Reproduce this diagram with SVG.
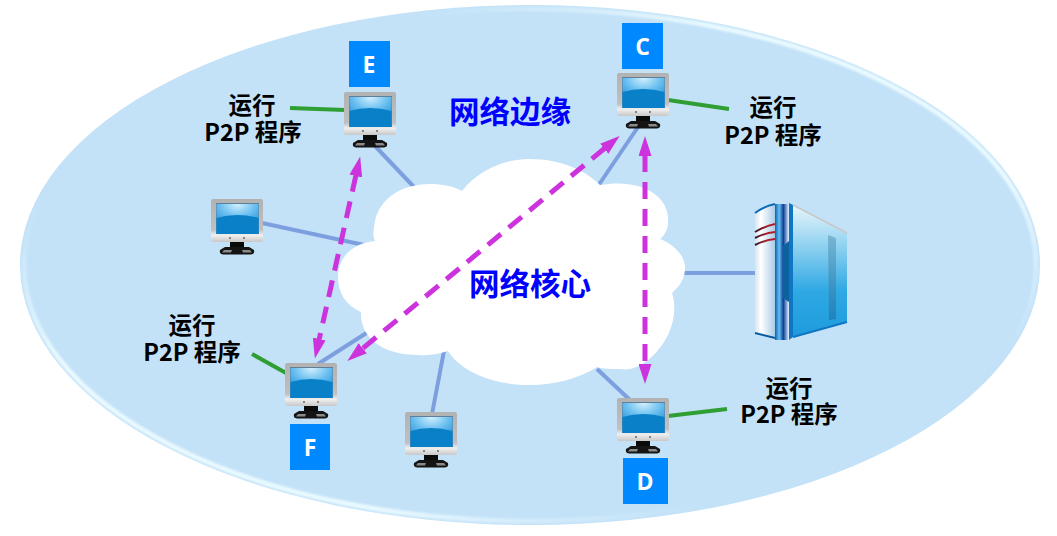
<svg xmlns="http://www.w3.org/2000/svg" xmlns:xlink="http://www.w3.org/1999/xlink" width="1057" height="536" viewBox="0 0 1057 536">
<style>
text{font-family:"Noto Sans CJK SC","Liberation Sans",sans-serif;font-weight:700;text-anchor:middle}
.lbl{font-size:23.5px;fill:#000}
.zone{font-size:30.5px;fill:#0000ff}
.tag{font-family:"Open Sans","Liberation Sans",sans-serif;font-size:23px;fill:#fff}
.box{fill:#0088ff}
.link{stroke:#7d9fe0;stroke-width:4;fill:none}
.note{stroke:#2f9e33;stroke-width:4;fill:none}
.p2p{stroke:#cc33dd;stroke-width:5;fill:none;stroke-dasharray:17 10;marker-start:url(#a);marker-end:url(#a)}
</style>
<defs>
<linearGradient id="hl" x1="0" y1="0" x2="1" y2="1">
<stop offset="0.2" stop-color="#eafaff" stop-opacity="0"/><stop offset="0.36" stop-color="#eafaff"/><stop offset="0.66" stop-color="#eafaff"/><stop offset="0.82" stop-color="#eafaff" stop-opacity="0"/>
</linearGradient>
<filter id="soft" x="-2%" y="-2%" width="104%" height="104%"><feGaussianBlur stdDeviation="1.3"/></filter>
<radialGradient id="scr" cx="50%" cy="0%" r="75%">
<stop offset="0" stop-color="#d4f1fe"/><stop offset="0.55" stop-color="#6cc0f0"/><stop offset="1" stop-color="#2e97dc"/>
</radialGradient>
<linearGradient id="fr" x1="0" y1="0" x2="0" y2="1">
<stop offset="0" stop-color="#b2b2b2"/><stop offset="0.72" stop-color="#c0c0c0"/><stop offset="0.84" stop-color="#f0f0f0"/><stop offset="1" stop-color="#c8c8c8"/>
</linearGradient>
<linearGradient id="sw" x1="0" y1="0" x2="1" y2="0">
<stop offset="0" stop-color="#d8e4ee"/><stop offset="0.3" stop-color="#ffffff"/><stop offset="1" stop-color="#a9cbe6"/>
</linearGradient>
<linearGradient id="sf" x1="0" y1="0" x2="0" y2="1">
<stop offset="0" stop-color="#e8f6fb"/><stop offset="0.65" stop-color="#2fa9e4"/><stop offset="1" stop-color="#1d9bdd"/>
</linearGradient>
<linearGradient id="ss" x1="0" y1="0" x2="1" y2="0">
<stop offset="0" stop-color="#0a5fb0"/><stop offset="0.3" stop-color="#66c0f0"/><stop offset="0.6" stop-color="#0d3f98"/><stop offset="1" stop-color="#e8f6fd"/>
</linearGradient>
<linearGradient id="red" x1="0" y1="0" x2="1" y2="0">
<stop offset="0" stop-color="#2a2030"/><stop offset="0.6" stop-color="#b01c28"/>
</linearGradient>
<linearGradient id="slot" x1="0" y1="0" x2="0" y2="1">
<stop offset="0" stop-color="#6aa9c8"/><stop offset="1" stop-color="#1d79ad"/>
</linearGradient>
<marker id="a" viewBox="0 0 20 13" refX="1" refY="6.5" markerWidth="20" markerHeight="13" markerUnits="userSpaceOnUse" orient="auto-start-reverse">
<path d="M0 0L20 6.5L0 13Z" fill="#cc33dd"/>
</marker>
<symbol id="pc" overflow="visible">
<rect x="19" y="42" width="14" height="8" fill="#0a0a0a"/>
<path d="M14 48h24l5 3q1 4-3 4.5H12q-4-.5-3-4.5z" fill="#141414"/>
<path d="M13 51h8l-1 2.500H11zM31 51h8l2 2.500H32z" fill="#8a8a8a"/>
<rect x="0" y="0" width="52" height="43" rx="2" fill="url(#fr)"/>
<rect x="5" y="4" width="43" height="31" fill="#5f7f98"/>
<rect x="5.500" y="5" width="42" height="30" fill="url(#scr)"/>
<path d="M5.500 19Q26 13 47.500 19V35H5.500z" fill="#0a80c8"/>
<circle cx="19" cy="39" r="1" fill="#666"/><circle cx="33" cy="39" r="1" fill="#666"/>
</symbol>
</defs>

<g id="edge-zone">
<ellipse cx="530" cy="265" rx="510" ry="260" fill="#c3e2f8"/>
<ellipse cx="530" cy="265" rx="506" ry="256" fill="none" stroke="url(#hl)" stroke-width="4.500" filter="url(#soft)"/>
</g>

<g id="connectors">
<path class="link" d="M375 146L414 187"/>
<path class="link" d="M262 223L364 245"/>
<path class="link" d="M318 364L368 332"/>
<path class="link" d="M432 414L444 351"/>
<path class="link" d="M638 127L598 186"/>
<path class="link" d="M597 369L630 400"/>
<path class="link" d="M680 273L755 273"/>
<path class="note" d="M290 108L345 110"/>
<path class="note" d="M668 100L729 109"/>
<path class="note" d="M252 354L286 373"/>
<path class="note" d="M668 416L727 409"/>
</g>

<g id="cloud"><path fill="#fff" d="M462 191C478 170 505 159 530 159C560 159 585 170 600 185C640 178 670 195 668 222C668 229 665 235 660 239C675 245 685 256 685 268C685 278 680 286 672 293C676 305 675 320 668 335C655 360 635 372 620 369C611 369 603 369 597 367C580 378 555 385 530 385C490 385 460 370 448 351C435 355 425 356 418 355C385 355 360 340 361 312C345 305 338 292 338 277C338 258 352 243 375 241C372 235 374 228 374 228C376 200 400 184 430 184C442 184 453 186 462 191Z"/></g>

<g id="server">
<path d="M755 213Q765 206 775 204V338L755 333Z" fill="url(#sw)"/>
<path d="M755 213Q765 206 775 204" stroke="#0a6ab8" stroke-width="2" fill="none"/>
<path d="M755 333L775 338" stroke="#0a5a9e" stroke-width="2" fill="none"/>
<path d="M755 232Q765 226 775 224M755 238Q765 233 775 232M755 245Q765 240 775 239" stroke="url(#red)" stroke-width="2" fill="none"/>
<path d="M775 204H789V340H775Z" fill="url(#ss)"/>
<path d="M789 203L793 205V337L789 340Z" fill="#0f76c4"/>
<path d="M793 205L847 233V322L793 337Z" fill="url(#sf)"/>
<path d="M793 205L847 233" stroke="#c7c7c7" stroke-width="1.500" fill="none"/>
<path d="M793 337L847 322" stroke="#0f76c4" stroke-width="2" fill="none"/>
<path d="M783 246L789 241V302L783 298Z" fill="#0b629e"/>
<path d="M828 235L836 238V319L829 320Z" fill="url(#slot)" opacity=".75"/>
</g>

<g id="pc-e"><use xlink:href="#pc" href="#pc" x="344" y="92"/><rect class="box" x="349" y="41" width="41" height="46"/><text class="tag" x="369" y="73">E</text></g>
<g id="pc-c"><use xlink:href="#pc" href="#pc" x="617" y="73"/><rect class="box" x="622" y="23" width="41" height="46"/><text class="tag" x="642.500" y="55">C</text></g>
<g id="pc-d"><use xlink:href="#pc" href="#pc" x="617" y="398"/><rect class="box" x="623" y="458" width="45" height="46"/><text class="tag" x="645" y="490">D</text></g>
<g id="pc-f"><use xlink:href="#pc" href="#pc" x="285" y="363"/><rect class="box" x="290" y="424" width="40" height="46"/><text class="tag" x="310" y="456">F</text></g>
<g id="pc-left"><use xlink:href="#pc" href="#pc" x="211" y="199"/></g>
<g id="pc-bottom"><use xlink:href="#pc" href="#pc" x="405" y="412"/></g>

<g id="p2p-links">
<path class="p2p" d="M356 175L319 340"/>
<path class="p2p" d="M605 148L362 349"/>
<path class="p2p" d="M645 155V365"/>
</g>

<g id="labels">
<text class="zone" x="510" y="123">网络边缘</text>
<text class="zone" x="530" y="295">网络核心</text>
<text class="lbl"><tspan x="252" y="114">运行</tspan><tspan x="253" y="141">P2P 程序</tspan></text>
<text class="lbl"><tspan x="773" y="116">运行</tspan><tspan x="773" y="144">P2P 程序</tspan></text>
<text class="lbl"><tspan x="192" y="334">运行</tspan><tspan x="192" y="361">P2P 程序</tspan></text>
<text class="lbl"><tspan x="789" y="397">运行</tspan><tspan x="789" y="423">P2P 程序</tspan></text>
</g>
</svg>
